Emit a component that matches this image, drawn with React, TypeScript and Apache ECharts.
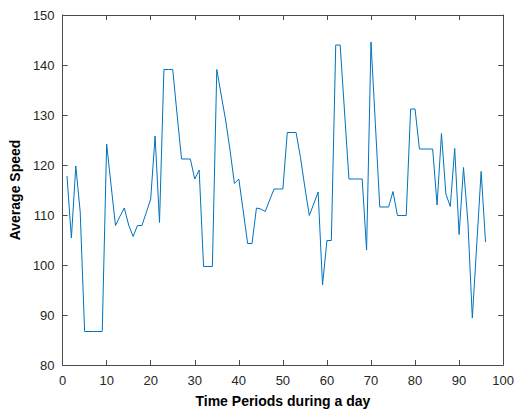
import React, { useEffect, useRef } from "react";
import * as echarts from "echarts";

const periods: number[] = Array.from({ length: 96 }, (_, i) => i + 1);
const avgSpeed: number[] = [
  117.8, 105.4, 119.8, 110.6, 86.7, 86.7, 86.7, 86.7, 86.7, 124.2,
  116.0, 107.9, 109.7, 111.4, 108.0, 105.7, 107.9, 107.9, 110.5, 113.2,
  125.8, 108.5, 139.1, 139.1, 139.1, 130.0, 121.2, 121.2, 121.2, 117.2,
  119.0, 99.7, 99.7, 99.7, 139.1, 134.0, 129.0, 123.0, 116.3, 117.2,
  110.8, 104.3, 104.3, 111.4, 111.2, 110.7, 113.0, 115.2, 115.2, 115.2,
  126.5, 126.5, 126.5, 121.5, 115.5, 109.9, 112.2, 114.6, 96.0, 104.9,
  104.9, 144.0, 144.0, 130.6, 117.2, 117.2, 117.2, 117.2, 103.0, 144.6,
  128.1, 111.6, 111.6, 111.6, 114.7, 109.9, 109.9, 109.9, 131.2, 131.2,
  123.2, 123.2, 123.2, 123.2, 112.0, 126.3, 114.2, 111.7, 123.3, 106.1,
  119.5, 108.6, 89.4, 104.0, 118.7, 104.6,
];

const xTitle = "Time Periods during a day";
const yTitle = "Average Speed";

const FONT = "'Liberation Sans', Arial, Helvetica, sans-serif";
const AXIS_COLOR = "#4a4a4a";
const LABEL_COLOR = "#262626";

export default function App() {
  const ref = useRef<HTMLDivElement>(null);
  useEffect(() => {
    if (!ref.current) return;
    const chart = echarts.init(ref.current, undefined, { renderer: "svg" });
    const tick = { show: true, inside: true, length: 5, lineStyle: { color: AXIS_COLOR, width: 1 } };
    const line = { show: true, onZero: false, lineStyle: { color: AXIS_COLOR, width: 1 } };
    chart.setOption({
      animation: false,
      backgroundColor: "#ffffff",
      grid: { left: 60, right: 12, top: 15, bottom: 46, containLabel: false },
      xAxis: [
        {
          type: "value",
          min: 0,
          max: 100,
          interval: 10,
          position: "bottom",
          axisLine: line,
          axisTick: tick,
          splitLine: { show: false },
          axisLabel: { color: LABEL_COLOR, fontSize: 13, fontFamily: FONT, margin: 9 },
          name: xTitle,
          nameLocation: "middle",
          nameGap: 29,
          nameTextStyle: { color: "#000", fontSize: 14, fontWeight: "bold", fontFamily: FONT },
        },
        {
          type: "value",
          min: 0,
          max: 100,
          interval: 10,
          position: "top",
          axisLine: line,
          axisTick: tick,
          splitLine: { show: false },
          axisLabel: { show: false },
        },
      ],
      yAxis: [
        {
          type: "value",
          min: 80,
          max: 150,
          interval: 10,
          position: "left",
          axisLine: line,
          axisTick: tick,
          splitLine: { show: false },
          axisLabel: { color: LABEL_COLOR, fontSize: 13, fontFamily: FONT, margin: 8 },
          name: yTitle,
          nameLocation: "middle",
          nameGap: 35,
          nameTextStyle: { color: "#000", fontSize: 14, fontWeight: "bold", fontFamily: FONT },
        },
        {
          type: "value",
          min: 80,
          max: 150,
          interval: 10,
          position: "right",
          axisLine: line,
          axisTick: tick,
          splitLine: { show: false },
          axisLabel: { show: false },
        },
      ],
      series: [
        {
          type: "line",
          data: periods.map((p, i) => [p, avgSpeed[i]]),
          showSymbol: false,
          symbol: "none",
          lineStyle: { color: "#0072BD", width: 1 },
          xAxisIndex: 0,
          yAxisIndex: 0,
        },
      ],
    });
    return () => chart.dispose();
  }, []);
  return (
    <div
      ref={ref}
      style={{ position: "fixed", left: 0, top: 0, width: 517, height: 413, background: "#fff" }}
    />
  );
}
